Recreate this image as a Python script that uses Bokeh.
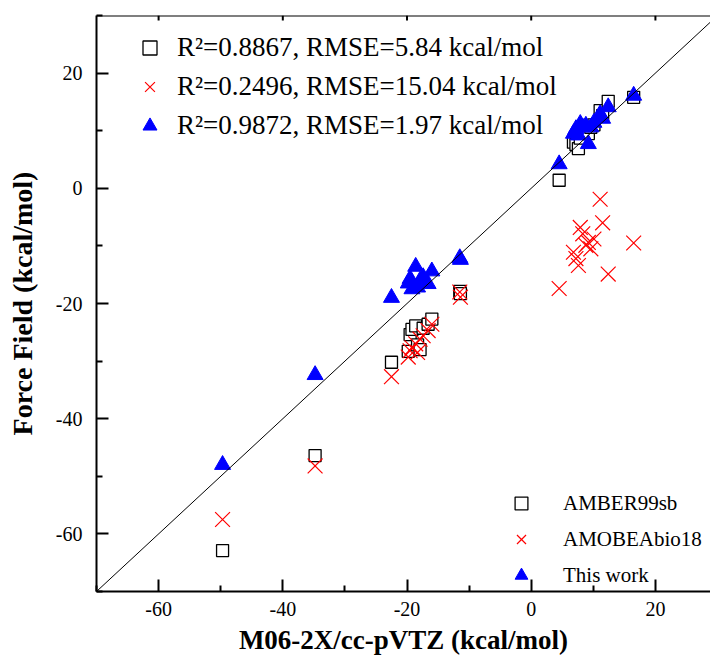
import math
from bokeh.plotting import figure
from bokeh.models import Range1d, Legend, LegendItem, Slope, Span, FixedTicker
from bokeh.embed import file_html
from bokeh.resources import INLINE

# ---- data ----
x_qm = [-49.7, -34.8, -22.5, -19.8, -19.5, -19.2, -18.6, -18.3, -17.9, -17.4, -16.6, -16.0,
        -11.5, -11.4, 4.5, 6.8, 7.2, 7.6, 7.9, 8.3, 8.8, 9.2, 9.6, 10.1, 11.1, 11.5, 12.4, 16.5]
y_amber = [-62.9, -46.4, -30.2, -28.3, -25.4, -24.5, -23.9, -27.2, -28.0, -24.3, -23.6, -22.7,
           -17.9, -18.3, 1.4, 8.0, 7.6, 6.9, 8.7, 9.6, 10.2, 9.5, 10.6, 11.0, 13.5, 12.6, 15.1, 15.8]
y_amoeba = [-57.5, -48.2, -32.7, -29.3, -28.2, -27.7, -27.0, -28.5, -26.2, -25.6, -24.7, -23.6,
            -18.0, -18.9, -17.4, -11.1, -12.2, -13.4, -6.8, -7.9, -9.9, -9.4, -10.5, -8.8, -1.9, -6.0, -14.9, -9.5]
y_this = [-48.0, -32.4, -19.0, -16.5, -15.7, -17.5, -13.6, -17.2, -16.0, -15.4, -16.6, -14.4,
          -12.1, -12.4, 4.2, 9.5, 10.3, 9.2, 11.2, 10.6, 10.9, 7.7, 10.6, 11.4, 12.9, 12.1, 14.1, 16.1]

series_names = ["AMBER99sb", "AMOBEAbio18", "This work"]
series_stats = ["R\u00b2=0.8867, RMSE=5.84 kcal/mol",
                "R\u00b2=0.2496, RMSE=15.04 kcal/mol",
                "R\u00b2=0.9872, RMSE=1.97 kcal/mol"]

x_ticks = [-60, -40, -20, 0, 20]
x_tick_labels = ["-60", "-40", "-20", "0", "20"]
y_ticks = [-60, -40, -20, 0, 20]
y_tick_labels = ["-60", "-40", "-20", "0", "20"]
minor_ticks = [-70, -50, -30, -10, 10, 30]

FONT = "Liberation Serif"
X_MIN, X_MAX = -70, 28.87
Y_MIN, Y_MAX = -70, 30

p = figure(width=710, height=659, x_range=Range1d(X_MIN, X_MAX), y_range=Range1d(Y_MIN, Y_MAX),
           output_backend="svg", toolbar_location=None,
           min_border_left=96, min_border_right=0, min_border_top=15, min_border_bottom=68)
p.outline_line_color = None
p.grid.visible = False
p.background_fill_color = "white"

# diagonal y = x
p.add_layout(Slope(gradient=1, y_intercept=0, line_color="black", line_width=1))

r1 = p.scatter(x_qm, y_amber, marker="square", size=12, line_color="black",
               fill_color="white", line_width=1.3)
r2 = p.scatter(x_qm, y_amoeba, marker="x", size=21, line_color="#ff0000", line_width=1.2)
r3 = p.scatter(x_qm, y_this, marker="triangle", size=16, line_color="blue",
               fill_color="blue", line_width=1)

# top frame line with small inward ticks
p.add_layout(Span(location=Y_MAX, dimension="width", line_color="black", line_width=2))
p.ray(x=x_ticks, y=[Y_MAX] * len(x_ticks), length=5, length_units="screen",
      angle=-math.pi / 2, line_color="black", line_width=2)

# axes
for ax, ticks, labels in ((p.xaxis[0], x_ticks, x_tick_labels), (p.yaxis[0], y_ticks, y_tick_labels)):
    ax.ticker = FixedTicker(ticks=ticks, minor_ticks=minor_ticks)
    ax.major_label_overrides = {t: l for t, l in zip(ticks, labels)}
    ax.axis_line_width = 2
    ax.major_tick_line_width = 2
    ax.minor_tick_line_width = 2
    ax.major_tick_in = 12
    ax.major_tick_out = 0
    ax.minor_tick_in = 6
    ax.minor_tick_out = 0
    ax.major_label_text_font = FONT
    ax.major_label_text_font_size = "20px"
    ax.major_label_text_color = "black"
    ax.axis_label_text_font = FONT
    ax.axis_label_text_font_style = "bold"
    ax.axis_label_text_color = "black"

p.xaxis.axis_label = "M06-2X/cc-pVTZ (kcal/mol)"
p.xaxis.axis_label_text_font_size = "27px"
p.xaxis.major_label_standoff = 10
p.xaxis.axis_label_standoff = 6
p.yaxis.axis_label = "Force Field (kcal/mol)"
p.yaxis.axis_label_text_font_size = "28px"
p.yaxis.major_label_standoff = 14
p.yaxis.axis_label_standoff = 15

# legends
leg1 = Legend(items=[LegendItem(label=s, renderers=[r]) for s, r in zip(series_stats, (r1, r2, r3))],
              location=(36, 448), glyph_width=35, glyph_height=35, spacing=4,
              label_standoff=10, padding=0, margin=0,
              label_text_font=FONT, label_text_font_size="27px", label_text_color="black",
              border_line_color=None, background_fill_alpha=0)
leg2 = Legend(items=[LegendItem(label=s, renderers=[r]) for s, r in zip(series_names, (r1, r2, r3))],
              location=(409, 0), glyph_width=32, glyph_height=32, spacing=4,
              label_standoff=26, padding=0, margin=0,
              label_text_font=FONT, label_text_font_size="21px", label_text_color="black",
              border_line_color=None, background_fill_alpha=0)
p.add_layout(leg1, "center")
p.add_layout(leg2, "center")

open("out.html", "w").write(file_html(p, INLINE))
